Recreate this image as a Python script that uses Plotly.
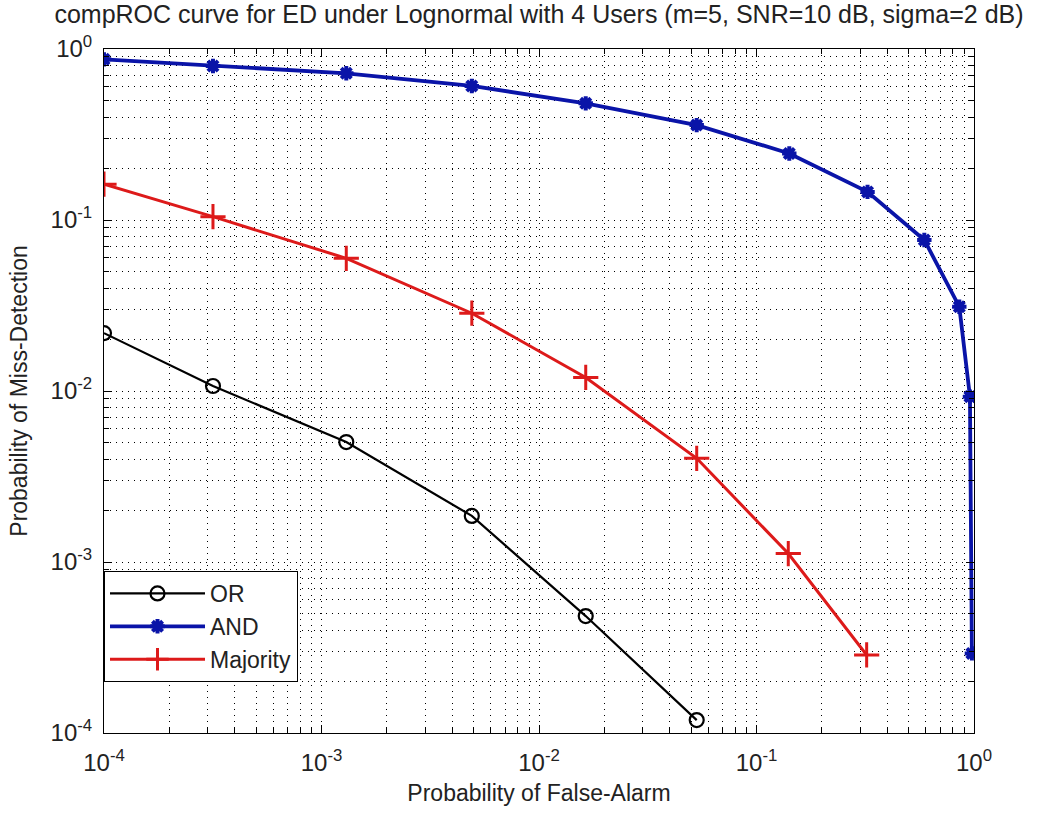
import plotly.graph_objects as go

# Probability of false alarm at each threshold
pfa_or = [1.0e-4, 3.17e-4, 1.30e-3, 4.91e-3, 1.64e-2, 5.31e-2]
pfa_maj = [1.0e-4, 3.17e-4, 1.30e-3, 4.91e-3, 1.64e-2, 5.31e-2, 0.140, 0.321]
pfa_and = [1.0e-4, 3.17e-4, 1.30e-3, 4.91e-3, 1.64e-2, 5.31e-2, 0.1415, 0.324,
           0.591, 0.856, 0.958, 0.978]

# Probability of miss detection for each fusion rule
pmd_or = [0.0218, 0.0107, 5.03e-3, 1.86e-3, 4.83e-4, 1.19e-4]
pmd_maj = [0.162, 0.1046, 0.0597, 0.0285, 0.0120, 4.04e-3, 1.12e-3, 2.86e-4]
pmd_and = [0.87, 0.795, 0.721, 0.608, 0.481, 0.359, 0.245, 0.146,
           0.0764, 0.0311, 9.27e-3, 2.92e-4]

decades = [-4, -3, -2, -1, 0]
tick_vals = [10.0 ** d for d in decades]
tick_text = [f"10<sup>{d}</sup>" for d in decades]
minor_vals = [k * 10.0 ** d for d in decades[:-1] for k in range(2, 10)]

FONT = "Liberation Sans, Arial, Helvetica, sans-serif"
BLUE = "#0a14a8"
RED = "#dd1a1a"

fig = go.Figure()
fig.add_trace(go.Scatter(
    x=pfa_or, y=pmd_or, name="OR", mode="lines+markers",
    line=dict(color="black", width=2.2),
    marker=dict(symbol="circle-open", size=14, color="black",
                line=dict(width=2.2, color="black")),
))
fig.add_trace(go.Scatter(
    x=pfa_and, y=pmd_and, name="AND", mode="lines+markers",
    line=dict(color=BLUE, width=3.8),
    marker=dict(symbol="asterisk", size=12, color=BLUE,
                line=dict(width=4, color=BLUE)),
))
fig.add_trace(go.Scatter(
    x=pfa_maj, y=pmd_maj, name="Majority", mode="lines+markers",
    line=dict(color=RED, width=3),
    marker=dict(symbol="cross-thin", size=18, color=RED,
                line=dict(width=3, color=RED)),
))

axis_common = dict(
    type="log",
    tickvals=tick_vals,
    ticktext=tick_text,
    ticks="inside",
    ticklen=8,
    tickwidth=1,
    tickcolor="black",
    showline=True,
    linecolor="black",
    linewidth=1,
    mirror="allticks",
    showgrid=True,
    gridcolor="black",
    gridwidth=1,
    griddash="1px,5px",
    zeroline=False,
    automargin=False,
    tickfont=dict(family=FONT, size=24, color="#222222"),
    minor=dict(
        tickvals=minor_vals,
        ticks="inside",
        ticklen=5,
        tickcolor="black",
        showgrid=True,
        gridcolor="black",
        gridwidth=1,
        griddash="1px,5px",
    ),
)

fig.update_xaxes(
    **axis_common,
    range=[-4, 0],
    ticklabelstandoff=8,
    title=dict(text="Probability of False-Alarm",
               font=dict(family=FONT, size=23, color="#222222"), standoff=10),
)
fig.update_yaxes(
    **axis_common,
    range=[-4, 0],
    ticklabelstandoff=6,
    title=dict(text="Probability of Miss-Detection",
               font=dict(family=FONT, size=23, color="#222222"), standoff=16),
)

fig.update_layout(
    width=1046,
    height=818,
    margin=dict(l=104, r=72, t=49, b=85),
    paper_bgcolor="white",
    plot_bgcolor="white",
    title=dict(
        text="compROC curve for ED under Lognormal with 4 Users (m=5, SNR=10 dB, sigma=2 dB)",
        font=dict(family=FONT, size=25, color="#222222"),
        x=0.5, xref="paper", xanchor="center",
        y=0.993, yref="container", yanchor="top",
    ),
    legend=dict(
        x=0.0, y=0.0746, xref="paper", yref="paper",
        xanchor="left", yanchor="bottom",
        bgcolor="white",
        bordercolor="black",
        borderwidth=1,
        font=dict(family=FONT, size=23, color="#222222"),
        itemwidth=95,
    ),
    showlegend=True,
)

fig.write_html("out.html")
